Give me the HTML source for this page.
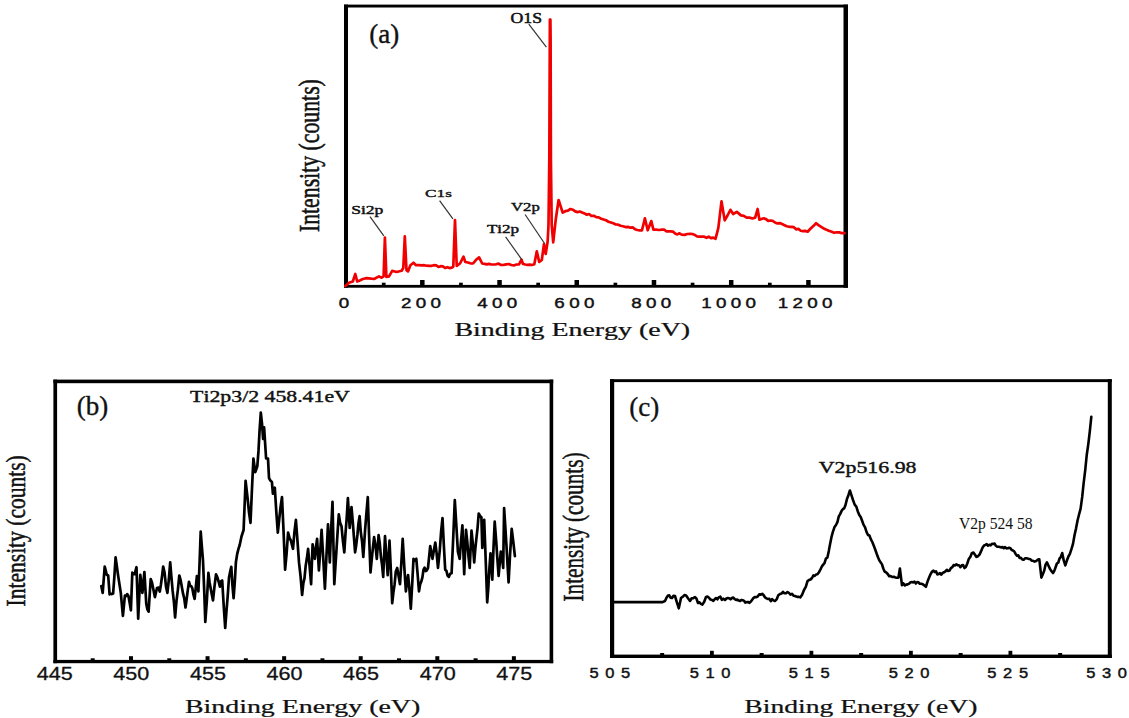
<!DOCTYPE html>
<html><head><meta charset="utf-8"><title>XPS spectra</title>
<style>html,body{margin:0;padding:0;background:#fff;}svg{display:block;}text{font-kerning:none;}</style></head>
<body><svg width="1129" height="718" viewBox="0 0 1129 718">
<rect width="1129" height="718" fill="#fff"/>
<rect x="344.00" y="4.60" width="504.00" height="2.90" fill="#000"/>
<rect x="344.00" y="4.60" width="4.00" height="283.10" fill="#000"/>
<rect x="843.50" y="4.60" width="4.50" height="283.10" fill="#000"/>
<rect x="344.00" y="284.90" width="504.00" height="2.80" fill="#000"/>
<rect x="420.07" y="280.00" width="4.50" height="6.00" fill="#000"/>
<rect x="497.29" y="280.00" width="4.50" height="6.00" fill="#000"/>
<rect x="574.51" y="280.00" width="4.50" height="6.00" fill="#000"/>
<rect x="651.73" y="280.00" width="4.50" height="6.00" fill="#000"/>
<rect x="728.95" y="280.00" width="4.50" height="6.00" fill="#000"/>
<rect x="806.17" y="280.00" width="4.50" height="6.00" fill="#000"/>
<rect x="381.86" y="282.70" width="3.70" height="3.50" fill="#000"/>
<rect x="459.08" y="282.70" width="3.70" height="3.50" fill="#000"/>
<rect x="536.30" y="282.70" width="3.70" height="3.50" fill="#000"/>
<rect x="613.52" y="282.70" width="3.70" height="3.50" fill="#000"/>
<rect x="690.74" y="282.70" width="3.70" height="3.50" fill="#000"/>
<rect x="767.96" y="282.70" width="3.70" height="3.50" fill="#000"/>
<polyline points="345.3,286.0 349.0,282.7 352.8,281.5 355.3,274.0 357.2,281.5 360.3,280.2 362.8,279.0 365.9,278.2 369.0,278.3 374.0,279.0 379.0,276.4 381.6,277.7 383.6,276.4 384.9,237.6 386.4,277.0 389.0,276.4 392.2,270.8 396.6,272.0 401.6,270.8 403.3,268.0 404.8,236.3 406.5,270.2 408.0,271.4 410.4,265.2 413.5,262.7 416.0,265.2 419.2,265.2 421.7,265.4 424.2,265.2 426.7,265.7 429.2,265.9 431.7,265.8 433.9,265.2 436.2,265.3 438.4,267.0 440.6,266.2 442.9,266.4 445.1,268.0 447.3,267.2 449.6,268.1 451.8,267.7 453.3,266.6 455.0,220.0 456.7,265.8 460.0,263.5 463.5,256.6 465.3,262.0 467.9,262.5 470.4,263.3 473.0,263.5 476.1,259.8 479.1,257.4 482.2,263.5 484.5,263.9 486.8,264.4 489.1,263.9 491.4,264.5 493.7,264.5 496.0,264.3 498.6,263.6 501.1,265.0 503.6,264.8 506.2,264.4 508.8,264.0 511.3,265.0 513.9,265.4 516.4,264.5 519.0,264.3 521.5,259.6 523.0,264.0 525.3,264.5 527.5,264.8 529.8,264.6 532.0,265.0 534.3,264.3 536.8,251.3 539.2,262.0 541.8,260.0 544.0,244.0 545.7,254.0 547.6,242.0 548.5,225.0 549.3,160.0 549.8,40.0 549.9,19.5 550.4,19.5 550.6,40.0 550.9,160.0 551.7,225.0 553.2,242.4 555.7,219.8 558.6,200.0 562.7,212.6 565.3,211.2 567.9,210.7 570.5,209.0 572.8,209.7 575.2,211.4 577.5,212.1 579.8,211.5 582.1,212.4 584.5,213.4 586.8,214.7 589.0,214.0 591.4,215.8 593.9,215.8 596.3,217.1 598.7,217.4 601.2,218.7 603.6,219.5 606.0,220.3 608.5,221.7 610.9,222.5 613.3,223.3 615.8,224.5 618.2,224.7 620.6,225.7 623.0,226.2 625.5,227.1 627.9,226.8 630.2,227.7 632.6,227.4 635.0,229.2 637.3,230.0 639.6,230.4 642.0,230.3 644.9,218.3 647.7,230.3 651.3,221.1 653.4,229.6 656.2,229.7 659.1,230.0 661.9,229.6 664.1,229.6 666.3,231.3 668.5,231.4 670.7,231.4 672.9,231.6 675.1,233.6 677.3,234.4 679.5,233.3 681.7,234.6 684.5,234.9 687.4,234.0 690.2,233.9 692.5,234.0 694.8,234.9 697.1,236.5 699.4,236.7 704.2,236.7 706.5,237.8 708.7,236.7 711.0,238.2 713.2,237.6 715.5,238.8 718.3,228.2 721.5,201.3 724.7,220.4 727.5,215.5 730.4,209.8 733.2,214.0 736.8,211.9 741.0,215.4 743.8,215.8 746.7,217.6 749.5,217.6 752.4,218.5 755.2,217.6 757.6,209.0 759.4,219.7 763.7,218.3 766.0,219.1 768.2,220.9 770.5,220.5 772.7,220.9 775.0,222.5 777.4,223.4 779.7,223.1 782.1,224.1 784.5,225.2 786.8,226.3 789.2,226.8 791.5,226.8 793.8,227.2 796.1,229.3 798.4,228.9 800.7,230.7 803.0,231.2 805.3,230.9 807.6,231.7 810.4,228.8 813.3,226.1 816.1,223.2 818.5,225.1 820.8,226.7 823.2,228.2 826.0,229.5 828.9,230.7 831.7,231.7 834.3,232.8 836.8,232.3 839.4,232.4 841.9,233.2 844.5,233.1" fill="none" stroke="#f00000" stroke-width="2.7" stroke-linejoin="round" stroke-linecap="round"/>
<line x1="528.8" y1="24.2" x2="546.4" y2="47.2" stroke="#333" stroke-width="1.2"/>
<line x1="370.0" y1="216.7" x2="383.8" y2="235.8" stroke="#333" stroke-width="1.2"/>
<line x1="439.6" y1="200.7" x2="452.9" y2="218.8" stroke="#333" stroke-width="1.2"/>
<line x1="505.6" y1="236.8" x2="521.8" y2="259.6" stroke="#333" stroke-width="1.2"/>
<line x1="525.1" y1="214.5" x2="544.6" y2="243.5" stroke="#333" stroke-width="1.2"/>
<text transform="translate(369.31,42.54) scale(1.0039,0.9844)" font-family='"Liberation Serif", serif' font-weight="normal" font-size="27" fill="#111" stroke="#111" stroke-width="0.35" stroke-linejoin="round">(a)</text>
<text transform="translate(510.57,23.00) scale(1.3637,1.0808)" font-family='"Liberation Serif", serif' font-weight="normal" font-size="13" fill="#111" stroke="#111" stroke-width="0.45" stroke-linejoin="round">O1S</text>
<text transform="translate(351.23,214.00) scale(1.3488,0.9986)" font-family='"Liberation Serif", serif' font-weight="normal" font-size="13" fill="#111" stroke="#111" stroke-width="0.45" stroke-linejoin="round">Si2p</text>
<text transform="translate(425.09,197.00) scale(1.3263,0.8693)" font-family='"Liberation Serif", serif' font-weight="normal" font-size="13" fill="#111" stroke="#111" stroke-width="0.45" stroke-linejoin="round">C1s</text>
<text transform="translate(486.89,232.90) scale(1.3104,0.9868)" font-family='"Liberation Serif", serif' font-weight="normal" font-size="13" fill="#111" stroke="#111" stroke-width="0.45" stroke-linejoin="round">Ti2p</text>
<text transform="translate(511.01,211.20) scale(1.2837,0.9868)" font-family='"Liberation Serif", serif' font-weight="normal" font-size="13" fill="#111" stroke="#111" stroke-width="0.45" stroke-linejoin="round">V2p</text>
<text transform="translate(454.40,335.70) scale(1.4702,0.9485)" font-family='"Liberation Serif", serif' font-weight="normal" font-size="19" fill="#111" stroke="#111" stroke-width="0.25" stroke-linejoin="round">Binding Energy (eV)</text>
<text transform="translate(319.17,232.09) rotate(-90) scale(0.7511,1.0121)" font-family='"Liberation Serif", serif' font-weight="normal" font-size="29" fill="#111" stroke="#111" stroke-width="0.55" stroke-linejoin="round">Intensity (counts)</text>
<text transform="translate(338.79,308.20) scale(1.2500,0.9787)" font-family='"Liberation Sans", sans-serif' font-weight="normal" font-size="15" letter-spacing="3.500" fill="#111" stroke="#111" stroke-width="0.45" stroke-linejoin="round">0</text>
<text transform="translate(400.88,308.20) scale(1.2500,0.9787)" font-family='"Liberation Sans", sans-serif' font-weight="normal" font-size="15" letter-spacing="3.500" fill="#111" stroke="#111" stroke-width="0.45" stroke-linejoin="round">200</text>
<text transform="translate(477.13,308.20) scale(1.2500,0.9787)" font-family='"Liberation Sans", sans-serif' font-weight="normal" font-size="15" letter-spacing="3.500" fill="#111" stroke="#111" stroke-width="0.45" stroke-linejoin="round">400</text>
<text transform="translate(554.37,308.20) scale(1.2500,0.9787)" font-family='"Liberation Sans", sans-serif' font-weight="normal" font-size="15" letter-spacing="3.500" fill="#111" stroke="#111" stroke-width="0.45" stroke-linejoin="round">600</text>
<text transform="translate(631.24,308.20) scale(1.2500,0.9787)" font-family='"Liberation Sans", sans-serif' font-weight="normal" font-size="15" letter-spacing="3.500" fill="#111" stroke="#111" stroke-width="0.45" stroke-linejoin="round">800</text>
<text transform="translate(701.23,308.20) scale(1.2500,0.9787)" font-family='"Liberation Sans", sans-serif' font-weight="normal" font-size="15" letter-spacing="3.500" fill="#111" stroke="#111" stroke-width="0.45" stroke-linejoin="round">1000</text>
<text transform="translate(777.73,308.20) scale(1.2500,0.9787)" font-family='"Liberation Sans", sans-serif' font-weight="normal" font-size="15" letter-spacing="3.500" fill="#111" stroke="#111" stroke-width="0.45" stroke-linejoin="round">1200</text>
<rect x="53.40" y="379.60" width="499.80" height="3.60" fill="#000"/>
<rect x="53.40" y="379.60" width="3.70" height="283.60" fill="#000"/>
<rect x="549.60" y="379.60" width="3.60" height="283.60" fill="#000"/>
<rect x="53.40" y="659.90" width="499.80" height="3.30" fill="#000"/>
<rect x="128.98" y="656.20" width="4.00" height="4.50" fill="#000"/>
<rect x="205.56" y="656.20" width="4.00" height="4.50" fill="#000"/>
<rect x="282.14" y="656.20" width="4.00" height="4.50" fill="#000"/>
<rect x="358.72" y="656.20" width="4.00" height="4.50" fill="#000"/>
<rect x="435.30" y="656.20" width="4.00" height="4.50" fill="#000"/>
<rect x="511.88" y="656.20" width="4.00" height="4.50" fill="#000"/>
<rect x="90.69" y="658.30" width="4.00" height="3.00" fill="#000"/>
<rect x="167.27" y="658.30" width="4.00" height="3.00" fill="#000"/>
<rect x="243.85" y="658.30" width="4.00" height="3.00" fill="#000"/>
<rect x="320.43" y="658.30" width="4.00" height="3.00" fill="#000"/>
<rect x="397.01" y="658.30" width="4.00" height="3.00" fill="#000"/>
<rect x="473.59" y="658.30" width="4.00" height="3.00" fill="#000"/>
<polyline points="101.3,586.0 102.7,592.9 104.7,566.5 106.8,574.8 108.2,575.5 109.6,594.3 110.8,593.8 111.9,594.1 113.1,593.6 114.3,577.7 115.6,557.4 116.8,565.9 118.0,574.8 119.4,583.9 120.8,592.9 122.9,615.9 124.9,595.7 126.1,596.2 127.2,594.1 128.4,595.7 129.7,603.1 130.9,610.3 132.3,572.7 133.5,574.1 134.7,574.1 136.5,567.2 138.2,618.7 140.3,574.8 142.4,592.9 144.4,572.0 146.3,604.1 147.4,609.4 148.6,611.7 150.7,579.0 152.1,582.9 153.5,590.0 154.9,597.1 157.0,588.0 158.4,587.6 159.8,591.5 160.9,584.8 162.1,575.8 163.2,566.5 164.6,572.9 166.0,586.6 167.4,592.9 168.8,580.0 170.2,562.3 171.4,576.9 172.6,590.4 173.9,601.8 175.1,617.3 176.5,600.8 177.9,589.6 179.3,575.5 180.5,579.6 181.8,586.7 183.0,593.4 184.3,598.7 185.5,607.5 186.7,598.7 187.8,590.1 189.0,581.8 190.1,585.7 191.2,586.2 192.3,588.2 193.4,594.3 194.6,598.9 195.8,587.4 196.9,576.0 198.4,591.3 199.6,562.2 200.7,531.5 201.8,545.8 203.0,560.6 204.2,590.1 205.3,621.9 206.9,600.0 208.4,572.9 209.6,582.4 210.7,588.4 211.8,594.6 213.0,600.4 214.5,586.4 216.0,574.4 217.3,577.1 218.6,581.5 219.9,586.7 221.1,581.4 222.2,580.5 223.7,605.6 225.2,628.0 226.5,610.6 227.7,596.1 229.0,577.5 230.2,571.6 231.3,566.8 232.4,584.8 233.6,598.1 234.8,582.0 235.9,562.2 237.2,553.9 238.4,549.2 239.7,545.0 241.5,536.5 243.6,530.0 245.6,480.9 247.5,497.5 249.0,512.3 250.5,522.8 251.9,490.5 253.4,458.5 255.3,472.1 257.3,466.3 258.5,450.9 259.6,430.0 260.8,412.7 262.0,423.6 263.1,439.0 264.1,427.3 266.1,458.5 268.0,458.5 269.0,478.0 270.4,480.6 271.9,481.9 272.9,493.6 274.8,487.7 276.3,511.6 277.8,532.6 279.2,519.5 280.6,506.7 282.0,497.0 283.6,532.4 285.1,569.6 286.6,553.5 288.1,532.5 289.5,537.9 290.9,540.7 293.0,548.8 294.4,532.4 295.9,519.9 297.4,539.8 299.0,562.4 300.6,576.6 302.1,595.0 303.3,583.5 304.5,578.1 305.7,565.6 306.9,558.3 308.1,548.8 309.6,566.2 311.1,584.1 312.6,544.3 314.8,558.8 316.0,547.2 317.1,538.9 318.9,570.5 320.2,551.4 321.6,529.8 323.2,557.3 324.9,588.6 326.4,557.2 328.0,524.4 329.8,562.4 331.1,530.1 332.5,501.8 334.3,584.1 335.4,566.3 336.6,547.8 337.7,530.6 338.8,514.4 340.1,522.7 341.5,526.2 342.9,540.9 344.3,552.4 345.5,533.3 346.7,518.2 347.9,498.1 349.7,528.0 351.5,507.2 352.7,520.8 353.9,536.8 355.1,552.4 356.2,545.2 357.4,535.0 358.5,523.2 359.6,516.2 360.8,532.3 362.1,541.9 363.3,557.0 365.1,529.8 366.5,512.2 367.8,497.2 369.1,536.2 370.5,572.4 371.7,559.7 372.9,547.8 374.1,537.1 375.5,545.7 376.8,558.8 378.6,535.2 379.8,543.5 380.9,556.5 382.1,565.1 383.2,576.9 385.0,536.2 386.4,556.2 387.7,575.1 389.5,540.7 390.9,571.2 392.2,603.1 393.4,592.3 394.6,584.4 395.8,571.4 397.2,567.9 398.6,576.0 400.0,584.2 401.4,561.9 402.7,538.9 404.3,567.1 405.9,591.4 407.0,581.6 408.1,575.1 409.5,590.1 410.8,608.6 412.1,585.8 413.5,558.8 414.9,560.5 416.3,558.8 417.6,573.8 419.0,591.4 420.1,584.4 421.2,581.8 422.4,577.4 423.5,569.7 424.6,567.7 425.8,571.1 426.9,570.3 428.0,567.9 430.2,546.1 431.4,553.0 432.5,558.8 433.9,550.2 435.3,542.5 436.6,553.1 438.0,567.9 439.8,549.8 441.1,531.6 442.5,518.1 443.9,546.3 445.2,569.7 446.4,570.7 447.6,575.6 448.8,576.9 450.2,573.8 451.6,573.3 453.2,538.3 454.8,500.0 456.4,526.3 457.9,551.6 459.7,558.8 461.0,541.0 462.4,525.3 464.2,574.2 466.0,529.8 467.2,540.8 468.5,556.3 469.7,567.9 471.5,530.7 472.9,544.3 474.2,562.4 475.3,548.8 476.4,538.3 477.6,527.6 478.7,513.5 480.0,515.9 481.4,517.2 482.3,547.9 484.2,519.9 485.7,560.0 487.2,602.3 488.3,588.2 489.4,568.2 490.5,553.4 492.3,579.6 493.5,548.1 494.7,521.7 496.0,538.6 497.3,557.6 498.6,576.0 500.8,551.6 502.0,557.5 503.2,567.9 504.1,508.1 505.2,525.0 506.4,544.5 507.5,564.1 508.6,582.3 510.1,553.7 511.7,528.9 513.3,541.8 514.9,556.1" fill="none" stroke="#000" stroke-width="2.7" stroke-linejoin="round" stroke-linecap="round"/>
<text transform="translate(76.81,414.51) scale(0.9997,0.9721)" font-family='"Liberation Serif", serif' font-weight="normal" font-size="27" fill="#111" stroke="#111" stroke-width="0.35" stroke-linejoin="round">(b)</text>
<text transform="translate(190.11,402.20) scale(1.3624,1.0404)" font-family='"Liberation Serif", serif' font-weight="normal" font-size="16" fill="#111" stroke="#111" stroke-width="0.4" stroke-linejoin="round">Ti2p3/2 458.41eV</text>
<text transform="translate(185.00,712.80) scale(1.3943,0.9698)" font-family='"Liberation Serif", serif' font-weight="normal" font-size="20" fill="#111" stroke="#111" stroke-width="0.25" stroke-linejoin="round">Binding Energy (eV)</text>
<text transform="translate(24.88,606.48) rotate(-90) scale(0.7426,0.9780)" font-family='"Liberation Serif", serif' font-weight="normal" font-size="29" fill="#111" stroke="#111" stroke-width="0.55" stroke-linejoin="round">Intensity (counts)</text>
<text transform="translate(36.79,680.00) scale(1.2000,1.0094)" font-family='"Liberation Sans", sans-serif' font-weight="normal" font-size="18" fill="#111" stroke="#111" stroke-width="0.3" stroke-linejoin="round">445</text>
<text transform="translate(113.33,680.00) scale(1.2000,1.0094)" font-family='"Liberation Sans", sans-serif' font-weight="normal" font-size="18" fill="#111" stroke="#111" stroke-width="0.3" stroke-linejoin="round">450</text>
<text transform="translate(189.95,680.00) scale(1.2000,1.0094)" font-family='"Liberation Sans", sans-serif' font-weight="normal" font-size="18" fill="#111" stroke="#111" stroke-width="0.3" stroke-linejoin="round">455</text>
<text transform="translate(266.49,680.00) scale(1.2000,1.0094)" font-family='"Liberation Sans", sans-serif' font-weight="normal" font-size="18" fill="#111" stroke="#111" stroke-width="0.3" stroke-linejoin="round">460</text>
<text transform="translate(343.11,680.00) scale(1.2000,1.0094)" font-family='"Liberation Sans", sans-serif' font-weight="normal" font-size="18" fill="#111" stroke="#111" stroke-width="0.3" stroke-linejoin="round">465</text>
<text transform="translate(419.65,680.00) scale(1.2000,1.0094)" font-family='"Liberation Sans", sans-serif' font-weight="normal" font-size="18" fill="#111" stroke="#111" stroke-width="0.3" stroke-linejoin="round">470</text>
<text transform="translate(496.27,680.00) scale(1.2000,1.0094)" font-family='"Liberation Sans", sans-serif' font-weight="normal" font-size="18" fill="#111" stroke="#111" stroke-width="0.3" stroke-linejoin="round">475</text>
<rect x="610.00" y="379.20" width="501.80" height="2.90" fill="#000"/>
<rect x="610.00" y="379.20" width="4.20" height="278.80" fill="#000"/>
<rect x="1107.80" y="379.20" width="4.00" height="278.80" fill="#000"/>
<rect x="610.00" y="654.60" width="501.80" height="3.40" fill="#000"/>
<rect x="710.00" y="650.80" width="3.80" height="4.50" fill="#000"/>
<rect x="809.50" y="650.80" width="3.80" height="4.50" fill="#000"/>
<rect x="909.00" y="650.80" width="3.80" height="4.50" fill="#000"/>
<rect x="1008.50" y="650.80" width="3.80" height="4.50" fill="#000"/>
<rect x="660.15" y="653.00" width="4.00" height="2.50" fill="#000"/>
<rect x="759.65" y="653.00" width="4.00" height="2.50" fill="#000"/>
<rect x="859.15" y="653.00" width="4.00" height="2.50" fill="#000"/>
<rect x="958.65" y="653.00" width="4.00" height="2.50" fill="#000"/>
<rect x="1058.15" y="653.00" width="4.00" height="2.50" fill="#000"/>
<polyline points="613.6,602.1 662.5,602.1 665.0,601.0 666.5,597.8 668.0,595.6 669.3,595.4 670.7,597.7 672.0,598.0 673.5,595.7 675.0,596.0 676.9,602.3 678.8,608.3 681.0,598.0 682.7,596.8 684.4,595.1 686.1,595.6 688.0,598.3 690.0,601.0 691.7,598.3 693.3,598.1 695.0,597.0 696.5,598.7 698.0,603.0 699.5,602.3 700.9,603.8 702.4,604.6 704.2,601.8 706.0,597.0 707.5,596.6 709.0,597.7 710.5,599.6 712.0,600.0 713.3,600.8 714.7,599.2 716.0,598.1 717.4,599.3 718.7,597.4 720.3,596.7 721.9,599.8 723.4,598.7 725.0,600.0 726.4,598.5 727.8,598.1 729.2,598.2 730.6,599.3 732.0,598.0 733.3,597.5 734.7,599.2 736.0,599.9 737.3,599.6 738.7,600.6 740.0,601.0 741.4,599.9 742.7,600.2 744.1,600.9 745.4,602.6 746.8,602.1 748.1,602.0 749.5,602.8 750.9,601.6 752.2,599.8 753.6,597.8 755.0,597.0 756.4,597.2 757.9,596.3 759.3,594.3 760.8,594.7 762.2,593.8 763.7,595.2 765.1,597.5 766.5,598.4 768.0,599.0 769.4,598.8 770.8,601.2 772.1,599.1 773.5,600.4 774.9,601.0 776.6,599.4 778.3,595.3 780.0,594.0 781.5,593.6 783.0,591.8 784.5,593.3 786.0,593.2 787.5,592.0 789.0,593.0 790.5,594.7 792.0,593.8 793.5,595.8 795.0,596.0 796.3,596.6 797.6,596.9 798.9,596.9 800.2,597.4 802.1,594.7 804.0,590.0 805.8,586.9 807.5,581.1 809.0,580.0 810.5,579.5 812.0,578.0 813.4,575.4 814.7,576.0 816.0,574.5 817.4,574.3 818.8,572.5 820.1,570.2 821.6,567.0 823.0,564.8 824.5,563.1 825.9,558.6 827.4,557.5 828.8,551.1 830.1,543.9 831.4,537.4 832.8,532.2 834.4,527.3 836.0,525.0 837.4,522.2 838.7,516.6 840.1,514.1 841.5,511.1 842.8,509.2 844.1,508.4 845.5,505.0 847.0,498.9 848.4,495.2 849.9,490.5 851.5,495.4 853.0,500.0 854.7,504.6 856.4,506.8 857.8,511.4 859.3,515.1 860.7,517.0 862.2,521.0 863.6,524.9 865.1,527.4 866.5,531.9 868.0,535.0 869.4,535.5 870.9,539.4 872.3,542.0 873.8,545.8 875.2,549.5 876.7,553.8 878.1,557.5 879.4,560.6 880.7,562.4 882.0,564.4 883.3,568.5 884.6,571.5 886.1,572.3 887.7,574.0 889.2,576.3 890.7,576.1 892.2,577.0 893.8,576.7 895.3,577.4 896.9,577.8 898.4,577.6 899.9,568.5 902.0,585.3 903.4,583.4 904.9,585.5 906.3,584.6 907.7,584.4 909.2,583.6 910.6,582.2 911.9,582.1 913.2,582.4 914.5,581.7 915.9,583.5 917.2,582.0 918.5,582.3 919.8,583.8 921.3,583.7 922.8,584.3 924.4,585.6 925.9,586.8 927.5,581.6 929.0,577.7 930.5,574.3 932.1,571.5 933.4,570.7 934.7,572.0 936.0,571.4 937.4,574.4 938.7,574.1 940.0,573.1 941.3,574.6 942.7,572.9 944.0,572.3 945.4,571.4 946.8,569.8 948.1,571.0 949.5,570.6 950.9,568.1 952.3,567.2 953.6,565.1 955.0,565.4 956.4,564.4 957.7,565.3 959.0,565.3 960.4,567.1 961.8,565.3 963.1,565.1 964.4,568.1 965.8,566.9 967.3,563.5 968.8,558.9 970.4,556.7 971.9,553.1 973.4,552.5 975.0,554.7 976.5,556.9 978.0,556.2 979.5,554.6 981.0,551.4 982.6,547.5 984.1,545.5 985.4,544.9 986.7,544.1 988.0,545.7 989.4,544.7 990.7,545.3 992.0,543.7 993.3,544.0 994.6,543.6 995.9,545.8 997.2,546.7 998.6,546.8 999.9,547.1 1001.2,547.5 1002.5,547.0 1003.8,548.2 1005.1,547.1 1006.4,548.4 1007.8,548.3 1009.1,547.8 1010.4,548.2 1011.7,550.1 1013.0,550.5 1014.3,551.5 1015.6,553.9 1017.0,555.8 1018.3,555.4 1019.6,557.9 1020.9,557.7 1022.3,559.5 1023.6,559.8 1025.0,558.3 1026.3,558.2 1027.7,558.6 1029.0,558.9 1030.4,559.2 1031.7,560.8 1033.1,560.8 1034.6,561.6 1036.2,561.1 1037.8,559.6 1039.3,559.3 1041.4,577.6 1042.8,574.2 1044.2,570.8 1045.5,564.9 1046.9,562.3 1048.4,565.5 1050.0,568.9 1051.5,571.2 1053.0,573.0 1054.3,570.9 1055.6,567.2 1056.9,563.5 1058.3,562.5 1059.6,558.3 1060.9,556.8 1062.2,553.1 1063.8,560.7 1065.3,565.4 1066.8,560.8 1068.4,556.5 1069.9,553.8 1071.5,548.9 1073.0,543.9 1074.5,535.3 1076.0,528.6 1077.5,520.8 1079.1,514.3 1080.6,508.7 1082.2,496.9 1083.7,482.7 1085.2,470.4 1086.7,455.3 1088.3,444.1 1089.8,431.4 1091.3,416.8" fill="none" stroke="#000" stroke-width="2.6" stroke-linejoin="round" stroke-linecap="round"/>
<text transform="translate(629.31,415.84) scale(1.0039,0.9844)" font-family='"Liberation Serif", serif' font-weight="normal" font-size="27" fill="#111" stroke="#111" stroke-width="0.35" stroke-linejoin="round">(c)</text>
<text transform="translate(818.85,473.30) scale(1.3651,1.0500)" font-family='"Liberation Serif", serif' font-weight="normal" font-size="16" fill="#111" stroke="#111" stroke-width="0.4" stroke-linejoin="round">V2p516.98</text>
<text transform="translate(959.02,528.90) scale(0.9750,1.0595)" font-family='"Liberation Serif", serif' font-weight="normal" font-size="16" fill="#111">V2p 524 58</text>
<text transform="translate(744.30,712.60) scale(1.3806,0.9698)" font-family='"Liberation Serif", serif' font-weight="normal" font-size="20" fill="#111" stroke="#111" stroke-width="0.25" stroke-linejoin="round">Binding Energy (eV)</text>
<text transform="translate(582.54,601.47) rotate(-90) scale(0.7317,1.0007)" font-family='"Liberation Serif", serif' font-weight="normal" font-size="29" fill="#111" stroke="#111" stroke-width="0.55" stroke-linejoin="round">Intensity (counts)</text>
<text transform="translate(589.55,677.60) scale(1.1000,0.9884)" font-family='"Liberation Sans", sans-serif' font-weight="normal" font-size="15" letter-spacing="6.000" fill="#111" stroke="#111" stroke-width="0.45" stroke-linejoin="round">505</text>
<text transform="translate(689.63,677.60) scale(1.1000,0.9884)" font-family='"Liberation Sans", sans-serif' font-weight="normal" font-size="15" letter-spacing="6.000" fill="#111" stroke="#111" stroke-width="0.45" stroke-linejoin="round">510</text>
<text transform="translate(788.85,677.60) scale(1.1000,0.9884)" font-family='"Liberation Sans", sans-serif' font-weight="normal" font-size="15" letter-spacing="6.000" fill="#111" stroke="#111" stroke-width="0.45" stroke-linejoin="round">515</text>
<text transform="translate(888.63,677.60) scale(1.1000,0.9884)" font-family='"Liberation Sans", sans-serif' font-weight="normal" font-size="15" letter-spacing="6.000" fill="#111" stroke="#111" stroke-width="0.45" stroke-linejoin="round">520</text>
<text transform="translate(987.35,677.60) scale(1.1000,0.9884)" font-family='"Liberation Sans", sans-serif' font-weight="normal" font-size="15" letter-spacing="6.000" fill="#111" stroke="#111" stroke-width="0.45" stroke-linejoin="round">525</text>
<text transform="translate(1086.33,677.60) scale(1.1000,0.9884)" font-family='"Liberation Sans", sans-serif' font-weight="normal" font-size="15" letter-spacing="6.000" fill="#111" stroke="#111" stroke-width="0.45" stroke-linejoin="round">530</text>
</svg></body></html>
